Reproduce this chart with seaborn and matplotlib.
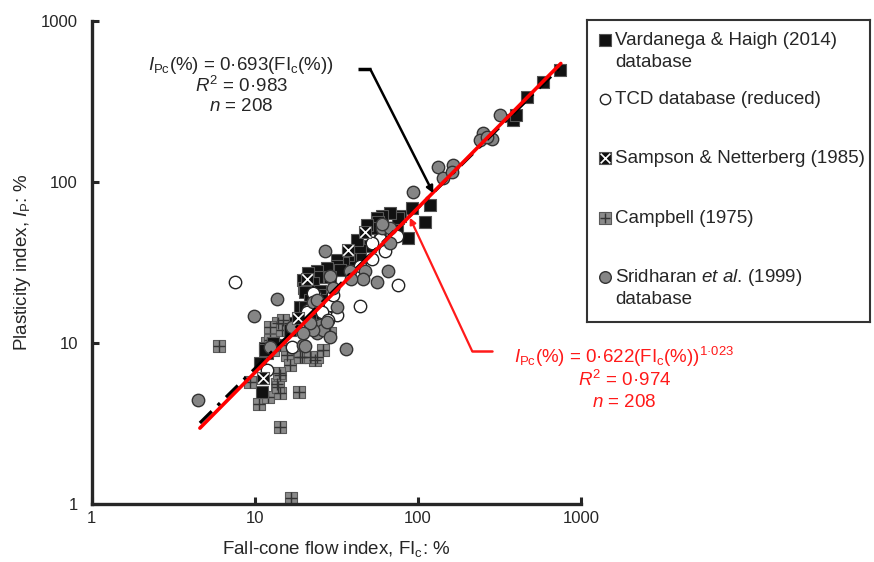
import numpy as np
import pandas as pd
import matplotlib
matplotlib.use("Agg")
import matplotlib.pyplot as plt
import seaborn as sns

# Vardanega & Haigh (2014) database
vh_fi = [743, 585, 466, 383, 400, 118, 110, 92, 87, 78, 75, 74, 67, 60, 58.5, 56, 57, 53,
         48.5, 51, 44, 42, 44, 38, 37, 34.6, 31.8, 32, 33, 27.7, 28.8, 24, 24, 21.1, 19.7,
         22.7, 20, 25, 20.3, 25, 21.8, 27.7, 18.9, 20.3, 28.8, 22.7, 27.7, 18.9, 21.8, 17.6,
         16.4, 12.9, 11.5, 11.8, 10.7, 11, 11.5]
vh_ip = [497, 418, 337, 243, 262, 72, 56, 69, 45, 61, 60, 50, 64, 61, 50, 60, 56, 52,
         54, 40, 38, 43.5, 33, 33, 35, 31.3, 32.8, 30, 28.4, 29.2, 25.7, 28, 25.7, 27.2, 24.6,
         23.6, 22, 21, 20.7, 19.9, 18.5, 18.5, 16.7, 16.7, 16, 15.4, 14.5, 14.3, 13.9, 13.3,
         12, 10, 9.3, 8.7, 7.5, 5.0, 9]

# TCD database (reduced)
tcd_fi = [7.5, 44, 75, 74, 58.5, 52, 63, 52, 44, 23.3, 21.1, 28.8, 27.7, 31.8, 16.9, 22.7,
          30, 11.8, 20.8, 25.7, 28]
tcd_ip = [24, 17, 23, 46, 44, 42, 37, 33, 30, 19.9, 16, 17.2, 14.5, 14.9, 9.4, 20.5,
          19.8, 6.8, 15.6, 15.6, 13.9]

# Sampson & Netterberg (1985)
sn_fi = [47, 37, 21, 18.3, 11.2]
sn_ip = [49, 38, 25, 14.3, 6.1]

# Campbell (1975)
cb_fi = [6.0, 14.2, 18.6, 16.6, 10.6, 12, 14.2, 13.6, 14.2, 9.3, 12.9, 15.7, 16.4, 19.4,
         13.8, 16.4, 23.3, 14, 13.8, 12.4, 28.8, 26, 11.8, 14.9, 14.6, 12.4, 12.9, 14.2,
         18.9, 21.8, 24]
cb_ip = [9.6, 3.0, 5.0, 1.09, 4.2, 4.6, 4.9, 5.6, 6.3, 5.7, 10, 8.4, 7.3, 8.2,
         13.3, 13.3, 7.8, 6.5, 5.3, 12.6, 11.5, 9, 10, 13.9, 12, 10.4, 9.0, 9.7,
         8.2, 8.2, 8.2]

# Sridharan et al. (1999) database
sr_fi = [4.5, 9.9, 13.6, 27, 93, 36, 65, 56, 19.7, 60, 67, 60, 67, 47, 46, 38, 39, 29, 30,
         22.7, 24, 25, 21.8, 24, 26, 20.3, 28.8, 12.4, 22.7, 27.7, 31.8, 21.8, 318, 250,
         240, 284, 265, 133, 164, 142, 162, 16.9, 19.7]
sr_ip = [4.4, 14.7, 18.8, 37, 86, 9.2, 28, 24, 9.7, 52, 52, 55, 42, 28, 25, 28, 25, 26, 22,
         18, 18.5, 12.9, 12.4, 11.5, 12, 9.6, 10.9, 9.4, 12, 13.5, 16.7, 13.3, 261, 201,
         182, 185, 190, 124, 128, 106, 115, 12.5, 11.5]

# fitted relations
fit_fi = np.array([4.6, 750])
fit_lin = 0.693 * fit_fi
fit_pow = 0.622 * fit_fi ** 1.023

sns.set_style("ticks")
plt.rcParams['font.family'] = ['Liberation Sans', 'DejaVu Sans']
plt.rcParams['mathtext.fontset'] = 'custom'
plt.rcParams['mathtext.rm'] = 'Liberation Sans'
plt.rcParams['mathtext.it'] = 'Liberation Sans:italic'
plt.rcParams['mathtext.bf'] = 'Liberation Sans:bold'

fig = plt.figure(figsize=(8.74, 5.62), dpi=100)
ax = fig.add_axes([0.105, 0.103, 0.56, 0.86])

ms = 80
sns.scatterplot(x=cb_fi, y=cb_ip, marker='s', s=ms, color='#8a8a8a', edgecolor='#5a5a5a',
                linewidth=0.8, ax=ax, zorder=2)
sns.scatterplot(x=cb_fi, y=cb_ip, marker='+', s=ms * 0.8, color='#333333', linewidth=1.0,
                ax=ax, zorder=2)
sns.scatterplot(x=vh_fi, y=vh_ip, marker='s', s=ms, color='#111111', edgecolor='#555555',
                linewidth=0.8, ax=ax, zorder=3)
sns.scatterplot(x=tcd_fi, y=tcd_ip, marker='o', s=ms, color='white', edgecolor='#222222',
                linewidth=1.0, ax=ax, zorder=4)
sns.scatterplot(x=sr_fi, y=sr_ip, marker='o', s=ms, color='#858585', edgecolor='#333333',
                linewidth=1.0, ax=ax, zorder=4)
sns.scatterplot(x=sn_fi, y=sn_ip, marker='s', s=ms, color='#111111', edgecolor='#555555',
                linewidth=0.8, ax=ax, zorder=5)
sns.scatterplot(x=sn_fi, y=sn_ip, marker='x', s=ms * 0.7, color='white', linewidth=1.2,
                ax=ax, zorder=5)

sns.lineplot(x=fit_fi, y=fit_lin, color='black', lw=2.4, ax=ax, zorder=6,
             linestyle=(0, (5, 2.5, 1, 2.5)))
sns.lineplot(x=fit_fi, y=fit_pow, color='#ff0000', lw=2.6, ax=ax, zorder=7)

ax.set_xscale('log')
ax.set_yscale('log')
ax.set_xlim(1, 1000)
ax.set_ylim(1, 1000)
ax.set_xticks([1, 10, 100, 1000])
ax.set_xticklabels(['1', '10', '100', '1000'])
ax.set_yticks([1, 10, 100, 1000])
ax.set_yticklabels(['1', '10', '100', '1000'])
ax.minorticks_off()
ax.tick_params(axis='both', direction='in', length=5, width=2.2, labelsize=12)
ax.tick_params(axis='x', pad=5)
ax.tick_params(axis='y', pad=10)
sns.despine(ax=ax)
for sp in ['left', 'bottom']:
    ax.spines[sp].set_linewidth(2.4)

ax.set_xlabel(r'Fall-cone flow index, FI$_{\mathrm{c}}$: %', fontsize=13.5, labelpad=9)
ax.set_ylabel(r'Plasticity index, $\mathit{I}_{\mathrm{P}}$: %', fontsize=13.5, labelpad=6)

# black equation
ax.text(0.305, 0.907, r'$\mathit{I}_{\mathrm{Pc}}$(%) = 0·693(FI$_{\mathrm{c}}$(%))',
        transform=ax.transAxes, ha='center', va='center', fontsize=13.5)
ax.text(0.305, 0.865, r'$\mathit{R}^{2}$ = 0·983', transform=ax.transAxes,
        ha='center', va='center', fontsize=13.5)
ax.text(0.305, 0.822, r'$\mathit{n}$ = 208', transform=ax.transAxes,
        ha='center', va='center', fontsize=13.5)
ax.plot([0.544, 0.571], [0.900, 0.900], transform=ax.transAxes, color='black', lw=2.5,
        clip_on=False, solid_capstyle='butt')
ax.annotate('', xy=(124, 85), xycoords='data', xytext=(0.569, 0.900),
            textcoords='axes fraction',
            arrowprops=dict(arrowstyle='-|>', color='black', lw=1.8, shrinkA=0, shrinkB=0,
                            mutation_scale=10), zorder=8)

# red equation
red = '#ff1a1a'
ax.text(1.088, 0.304, r'$\mathit{I}_{\mathrm{Pc}}$(%) = 0·622(FI$_{\mathrm{c}}$(%))$^{1·023}$',
        transform=ax.transAxes, ha='center', va='center', fontsize=13.5, color=red)
ax.text(1.088, 0.257, r'$\mathit{R}^{2}$ = 0·974', transform=ax.transAxes,
        ha='center', va='center', fontsize=13.5, color=red)
ax.text(1.088, 0.211, r'$\mathit{n}$ = 208', transform=ax.transAxes,
        ha='center', va='center', fontsize=13.5, color=red)
ax.plot([0.777, 0.818], [0.317, 0.317], transform=ax.transAxes, color=red, lw=1.8,
        clip_on=False)
ax.annotate('', xy=(89, 60), xycoords='data', xytext=(0.777, 0.317),
            textcoords='axes fraction',
            arrowprops=dict(arrowstyle='-|>', color=red, lw=1.6, shrinkA=0, shrinkB=0,
                            mutation_scale=9), zorder=8)

# legend box
lax = fig.add_axes([0.6716, 0.427, 0.3238, 0.537])
lax.set_xlim(0, 1)
lax.set_ylim(0, 1)
lax.set_xticks([])
lax.set_yticks([])
for sp in lax.spines.values():
    sp.set_linewidth(1.5)
    sp.set_color('#333333')

leg_y = [0.934, 0.738, 0.543, 0.344, 0.149]
leg_labels = ['Vardanega & Haigh (2014)', 'TCD database (reduced)',
              'Sampson & Netterberg (1985)', 'Campbell (1975)',
              r'Sridharan $\mathit{et\ al}$. (1999)']
lms = 70
lax.scatter([0.064], [leg_y[0]], marker='s', s=lms, color='#111111', edgecolor='#555555', lw=0.8)
lax.scatter([0.064], [leg_y[1]], marker='o', s=lms * 0.8, color='white', edgecolor='#222222', lw=1.0)
lax.scatter([0.064], [leg_y[2]], marker='s', s=lms, color='#111111', edgecolor='#555555', lw=0.8)
lax.scatter([0.064], [leg_y[2]], marker='x', s=lms * 0.7, color='white', lw=1.2)
lax.scatter([0.064], [leg_y[3]], marker='s', s=lms, color='#8a8a8a', edgecolor='#5a5a5a', lw=0.8)
lax.scatter([0.064], [leg_y[3]], marker='+', s=lms * 0.8, color='#333333', lw=1.0)
lax.scatter([0.064], [leg_y[4]], marker='o', s=lms, color='#858585', edgecolor='#333333', lw=1.0)
for yy, lab in zip(leg_y, leg_labels):
    lax.text(0.099, yy, lab, ha='left', va='center', fontsize=13.5)
lax.text(0.099, 0.861, 'database', ha='left', va='center', fontsize=13.5)
lax.text(0.099, 0.076, 'database', ha='left', va='center', fontsize=13.5)

fig.savefig('out.png', dpi=100)
